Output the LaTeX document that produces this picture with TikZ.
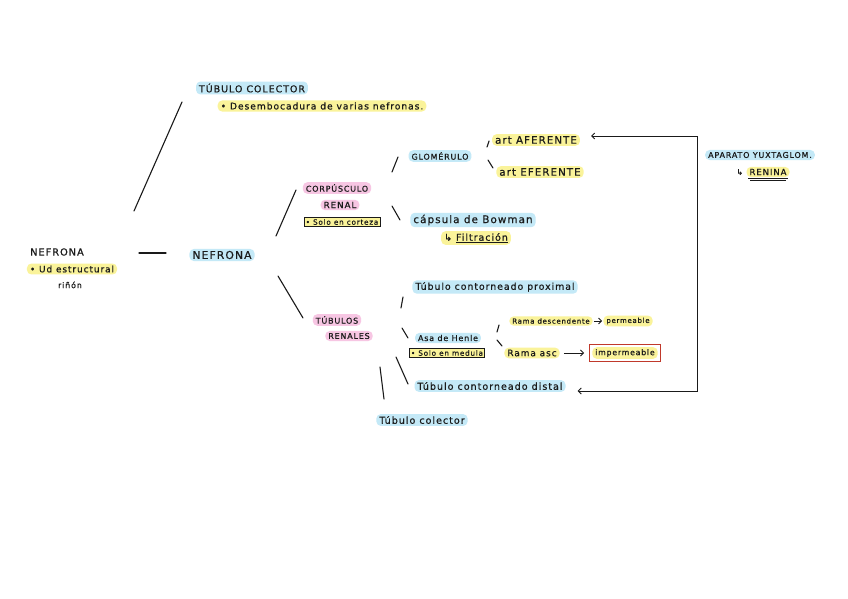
\documentclass[tikz,border=0pt]{standalone}
\usepackage{fontspec}
\setmainfont{DejaVu Sans}[LetterSpace=10,FakeBold=0.6]
\usepackage{xcolor}
\usetikzlibrary{arrows.meta,positioning}
\definecolor{blackmain}{HTML}{1A1A1A}
\definecolor{hlblue}{HTML}{C4E9F7}
\definecolor{hlyellow}{HTML}{FAF39A}
\definecolor{hlpink}{HTML}{F7C6E3}
\definecolor{redbox}{HTML}{C0392B}
\tikzset{
  hand/.style={text=blackmain,font=\fontsize{8}{9}\selectfont,inner xsep=3pt,inner ysep=2pt},
  sz/.style={font=\fontsize{#1}{#1}\selectfont},
  hlb/.style={hand,fill=hlblue,rounded corners=4.5pt},
  hly/.style={hand,fill=hlyellow,rounded corners=4.5pt},
  hlp/.style={hand,fill=hlpink,rounded corners=4.5pt},
  tag/.style={hand,sz=7.3,draw=blackmain,fill=hlyellow,inner sep=1.5pt},
  stroke/.style={blackmain,line width=1.1pt,line cap=round},
  link/.style={blackmain,line width=0.9pt}
}

\begin{document}
\begin{tikzpicture}[x=1pt,y=-1pt,>={Straight Barb[length=3pt]}]
  \useasboundingbox[fill=white] (0,0) rectangle (848,599);
  % left part
  \node[hand,sz=9.8] (nefA) at (57,252) {NEFRONA};
  \node[hly,sz=9] (ud) at (72,269) {• Ud estructural};
  \node[hand] (rinon) at (70,285) {riñón};
  \node[hlb,sz=9.5] (tcolA) at (252,88) {TÚBULO COLECTOR};
  \node[hly,sz=9.2] (desemb) at (322,106) {• Desembocadura de varias nefronas.};
  \node[hlb,sz=10.8] (nefB) at (222,255) {NEFRONA};
  \draw[stroke] (182,102) -- (134,211);
  \draw[stroke] (139,253) -- (166,253);
  % corpusculo renal
  \node[hlp] (corpA) at (337,188) {CORPÚSCULO};
  \node[hlp,sz=8.8] (corpB) at (340,205) {RENAL};
  \node[tag] (corteza) at (342,222) {• Solo en corteza};
  \draw[stroke] (296,190) -- (276,236);
  \draw[stroke] (278,276) -- (303,318);
  \node[hlb] (glom) at (440,156) {GLOMÉRULO};
  \node[hly,sz=10.3] (afer) at (536,140) {art AFERENTE};
  \node[hly,sz=10.3] (efer) at (540,172) {art EFERENTE};
  \node[hlb,sz=10.4] (bowman) at (473,220) {cápsula de Bowman};
  \node[hly,sz=9.5] (filtr) at (476,238) {↳ \underline{Filtración}};
  \draw[stroke] (398,157) -- (392,172);
  \draw[stroke] (392,206) -- (400,220);
  \draw[stroke] (489,141) -- (487,147);
  \draw[stroke] (488,160) -- (493,168);
  % tubulos renales
  \node[hlp] (tubA) at (337,320) {TÚBULOS};
  \node[hlp] (tubB) at (349,336) {RENALES};
  \node[hlb,sz=9.4] (tcp) at (495,287) {Túbulo contorneado proximal};
  \node[hlb] (asa) at (448,338) {Asa de Henle};
  \node[tag] (medula) at (447,353) {• Solo en medula};
  \node[hly,sz=7] (rdesc) at (551,321) {Rama descendente};
  \node[hly,sz=7] (perm) at (628,321) {permeable};
  \draw[link,->,shorten <=1pt,shorten >=1pt] (rdesc) -- (perm);
  \node[hly,sz=9] (rasc) at (532,353) {Rama asc};
  \node[hly,sz=7.8] (imperm) at (625,353) {impermeable};
  \draw[redbox,line width=1pt] ([xshift=-3pt,yshift=2.5pt]imperm.north west) rectangle ([xshift=3pt,yshift=-2.5pt]imperm.south east);
  \draw[link,->,shorten <=4pt,shorten >=8pt] (rasc) -- (imperm);
  \node[hlb,sz=9.6] (tcd) at (490,386) {Túbulo contorneado distal};
  \node[hlb,sz=9.6] (tcolB) at (422,420) {Túbulo colector};
  \draw[stroke] (403,297) -- (401,308);
  \draw[stroke] (402,328) -- (408,338);
  \draw[stroke] (499,325) -- (497,332);
  \draw[stroke] (497,340) -- (502,346);
  \draw[stroke] (396,357) -- (408,384);
  \draw[stroke] (380,367) -- (384,399);
  % aparato yuxtaglomerular
  \node[hlb] (aparato) at (760,155) {APARATO YUXTAGLOM.};
  \node[hly,sz=8.6] (renina) at (768,172) {RENINA};
  \node[hand,left=0pt of renina] (reninaarr) {↳};
  \draw[blackmain,line width=1pt] ([xshift=2pt,yshift=-1.5pt]renina.south west) -- ([xshift=-2pt,yshift=-1.5pt]renina.south east);
  \draw[blackmain,line width=1pt] ([xshift=4pt,yshift=-3.5pt]renina.south west) -- ([xshift=-4pt,yshift=-3.5pt]renina.south east);
  \coordinate (loopA) at (697,136);
  \coordinate (loopB) at (697,391);
  \draw[link,<->,shorten <=11pt,shorten >=12pt] (loopA -| afer.east) -- (loopA) -- (loopB) -- (loopB -| tcd.east);
\end{tikzpicture}
\end{document}
